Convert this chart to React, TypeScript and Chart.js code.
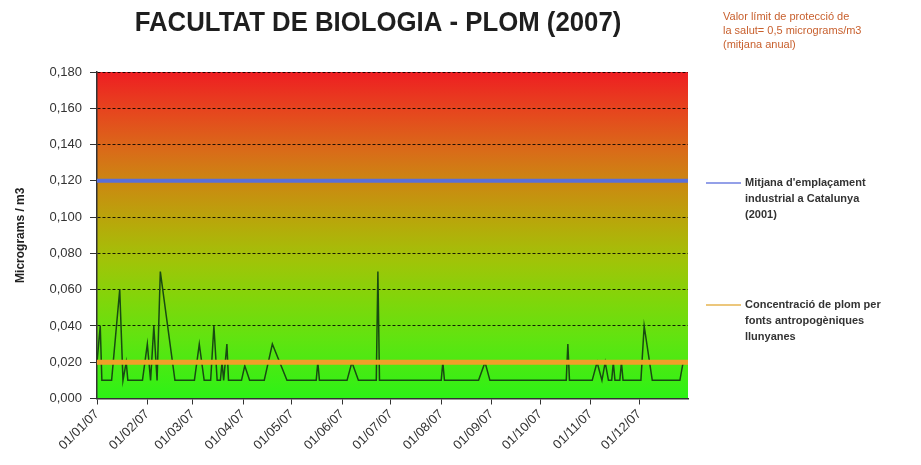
import React, { useEffect, useRef } from 'react';
import { Chart, registerables } from 'chart.js';

Chart.register(...registerables);

const FONT = "'Liberation Sans', Arial, sans-serif";

const chartTitle = 'FACULTAT DE BIOLOGIA - PLOM (2007)';
const yAxisTitle = 'Micrograms / m3';
const noteLines = ['Valor límit de protecció de', 'la salut= 0,5 micrograms/m3', '(mitjana anual)'];
const legendBlueLines = ["Mitjana d'emplaçament", 'industrial a Catalunya', '(2001)'];
const legendOrangeLines = ['Concentració de plom per', 'fonts antropogèniques', 'llunyanes'];

const monthTickLabels = [
  '01/01/07', '01/02/07', '01/03/07', '01/04/07', '01/05/07', '01/06/07',
  '01/07/07', '01/08/07', '01/09/07', '01/10/07', '01/11/07', '01/12/07',
];
const yTickValues = [0, 0.02, 0.04, 0.06, 0.08, 0.1, 0.12, 0.14, 0.16, 0.18];

const sampleDates = [
  '2007-01-01', '2007-01-03', '2007-01-04', '2007-01-10', '2007-01-15', '2007-01-17', '2007-01-19', '2007-01-20',
  '2007-01-29', '2007-02-01', '2007-02-03', '2007-02-05', '2007-02-07', '2007-02-09', '2007-02-18',
  '2007-03-02', '2007-03-05', '2007-03-08', '2007-03-12', '2007-03-14', '2007-03-16', '2007-03-18', '2007-03-19',
  '2007-03-20', '2007-03-22', '2007-03-23', '2007-03-31', '2007-04-02', '2007-04-05', '2007-04-14', '2007-04-19',
  '2007-04-28', '2007-05-16', '2007-05-17', '2007-05-18', '2007-06-04', '2007-06-07', '2007-06-11',
  '2007-06-22', '2007-06-23', '2007-06-24', '2007-08-01', '2007-08-02', '2007-08-03',
  '2007-08-24', '2007-08-28', '2007-08-31', '2007-10-17', '2007-10-18', '2007-10-19',
  '2007-11-02', '2007-11-05', '2007-11-08', '2007-11-10', '2007-11-12', '2007-11-14', '2007-11-15', '2007-11-16',
  '2007-11-19', '2007-11-20', '2007-11-21', '2007-12-02', '2007-12-04', '2007-12-09',
  '2007-12-26', '2007-12-28', '2007-12-31',
];
const leadValues = [
  0.02, 0.04, 0.01, 0.01, 0.06, 0.01, 0.02, 0.01,
  0.01, 0.03, 0.01, 0.04, 0.01, 0.07, 0.01,
  0.01, 0.03, 0.01, 0.01, 0.04, 0.01, 0.01, 0.02,
  0.01, 0.03, 0.01, 0.01, 0.018, 0.01, 0.01, 0.03,
  0.01, 0.01, 0.02, 0.01, 0.01, 0.02, 0.01,
  0.01, 0.07, 0.01, 0.01, 0.02, 0.01,
  0.01, 0.02, 0.01, 0.01, 0.03, 0.01,
  0.01, 0.02, 0.01, 0.02, 0.01, 0.01, 0.02, 0.01,
  0.01, 0.02, 0.01, 0.01, 0.04, 0.01,
  0.01, 0.02, 0.02,
];
const industrialMean = 0.12;
const remoteSources = 0.02;
const yearStart = '2007-01-01';
const yearEnd = '2007-12-31';

const dayOf = (iso: string) => {
  const [y, m, d] = iso.split('-').map(Number);
  const [y0] = yearStart.split('-').map(Number);
  return (Date.UTC(y, m - 1, d) - Date.UTC(y0, 0, 1)) / 86400000;
};
const labelToIso = (lbl: string) => {
  const [d, m, y] = lbl.split('/');
  return `20${y}-${m}-${d}`;
};
const monthTickDays = monthTickLabels.map((l) => dayOf(labelToIso(l)));
const xMin = dayOf(yearStart);
const xMax = dayOf(yearEnd);

const gradientPlugin = {
  id: 'bgGradient',
  beforeDraw(chart: any) {
    const { ctx, chartArea } = chart;
    const { left, top, right, bottom } = chartArea;
    const g = ctx.createLinearGradient(0, top, 0, bottom);
    g.addColorStop(0, 'rgb(238,30,34)');
    g.addColorStop(0.12, 'rgb(230,70,30)');
    g.addColorStop(0.25, 'rgb(216,110,24)');
    g.addColorStop(0.36, 'rgb(200,142,16)');
    g.addColorStop(0.47, 'rgb(182,170,10)');
    g.addColorStop(0.58, 'rgb(160,196,8)');
    g.addColorStop(0.7, 'rgb(128,214,10)');
    g.addColorStop(0.82, 'rgb(96,228,16)');
    g.addColorStop(1, 'rgb(44,242,22)');
    ctx.save();
    ctx.fillStyle = g;
    ctx.fillRect(left, top, right - left, bottom - top);
    ctx.restore();
  },
};

const textPlugin = {
  id: 'texts',
  afterDraw(chart: any) {
    const { ctx } = chart;
    ctx.save();
    ctx.fillStyle = '#1e1e1e';
    ctx.font = `bold 28px ${FONT}`;
    ctx.textAlign = 'center';
    ctx.textBaseline = 'middle';
    ctx.save();
    ctx.translate(378, 23);
    ctx.scale(0.92, 1);
    ctx.fillText(chartTitle, 0, 0);
    ctx.restore();

    ctx.textAlign = 'left';
    ctx.fillStyle = '#c8602e';
    ctx.font = `11px ${FONT}`;
    noteLines.forEach((l, i) => ctx.fillText(l, 723, 17 + i * 14));

    const legend = (lines: string[], color: string, y: number) => {
      ctx.strokeStyle = color;
      ctx.lineWidth = 1.5;
      ctx.beginPath();
      ctx.moveTo(706, y);
      ctx.lineTo(741, y);
      ctx.stroke();
      ctx.fillStyle = '#333';
      ctx.font = `bold 11px ${FONT}`;
      lines.forEach((l, i) => ctx.fillText(l, 745, y + i * 16));
    };
    legend(legendBlueLines, '#7080e0', 183);
    legend(legendOrangeLines, '#e6b450', 305);
    ctx.restore();
  },
};

export default function App() {
  const ref = useRef<HTMLCanvasElement>(null);
  useEffect(() => {
    if (!ref.current) return;
    Chart.defaults.font.family = FONT;
    const lead = sampleDates.map((d, i) => ({ x: dayOf(d), y: leadValues[i] }));
    const chart = new Chart(ref.current, {
      type: 'line',
      data: {
        datasets: [
          {
            label: legendBlueLines.join(' '),
            data: [{ x: xMin, y: industrialMean }, { x: xMax, y: industrialMean }],
            borderColor: '#5b6fd8',
            borderWidth: 4,
            pointRadius: 0,
          },
          {
            label: legendOrangeLines.join(' '),
            data: [{ x: xMin, y: remoteSources }, { x: xMax, y: remoteSources }],
            borderColor: '#f0a028',
            borderWidth: 5,
            pointRadius: 0,
          },
          {
            label: 'Plom',
            data: lead,
            borderColor: '#184a12',
            borderWidth: 1.5,
            pointRadius: 0,
          },
        ],
      },
      options: {
        animation: false,
        responsive: true,
        maintainAspectRatio: false,
        layout: { padding: { top: 72, right: 233, left: 0, bottom: 0 } },
        plugins: {
          legend: { display: false },
          title: { display: false },
          tooltip: { enabled: false },
        },
        scales: {
          x: {
            type: 'linear',
            min: xMin,
            max: xMax,
            afterBuildTicks: (s: any) => {
              s.ticks = monthTickDays.map((v) => ({ value: v }));
            },
            afterFit: (s: any) => {
              s.height = 66.5;
            },
            ticks: {
              autoSkip: false,
              minRotation: 45,
              maxRotation: 45,
              padding: 2,
              color: '#333',
              font: { size: 13, family: FONT },
              callback: (v: any) => {
                const i = monthTickDays.indexOf(Number(v));
                return i >= 0 ? monthTickLabels[i] : '';
              },
            },
            grid: { drawOnChartArea: false, tickLength: 6, tickColor: '#333', tickWidth: 1 },
            border: { color: '#333', width: 1.5 },
          },
          y: {
            type: 'linear',
            min: 0,
            max: 0.18,
            afterBuildTicks: (s: any) => {
              s.ticks = yTickValues.map((v) => ({ value: v }));
            },
            afterFit: (s: any) => {
              s.width = 97;
            },
            ticks: {
              padding: 8,
              color: '#333',
              font: { size: 13, family: FONT },
              callback: (v: any) => Number(v).toFixed(3).replace('.', ','),
            },
            grid: {
              color: 'rgba(0,0,0,0.85)',
              lineWidth: 1,
              tickLength: 7,
              tickColor: '#333',
              tickBorderDash: [],
            },
            border: { dash: [3, 2], color: '#333', width: 1.5 },
            title: {
              display: true,
              text: yAxisTitle,
              color: '#222',
              font: { size: 12, weight: 'bold', family: FONT },
              padding: { top: 13, bottom: 0 },
            },
          },
        },
      },
      plugins: [gradientPlugin, textPlugin],
    } as any);
    return () => chart.destroy();
  }, []);
  return (
    <div style={{ position: 'fixed', left: 0, top: 0, width: 921, height: 465, background: '#fff' }}>
      <canvas ref={ref} />
    </div>
  );
}
